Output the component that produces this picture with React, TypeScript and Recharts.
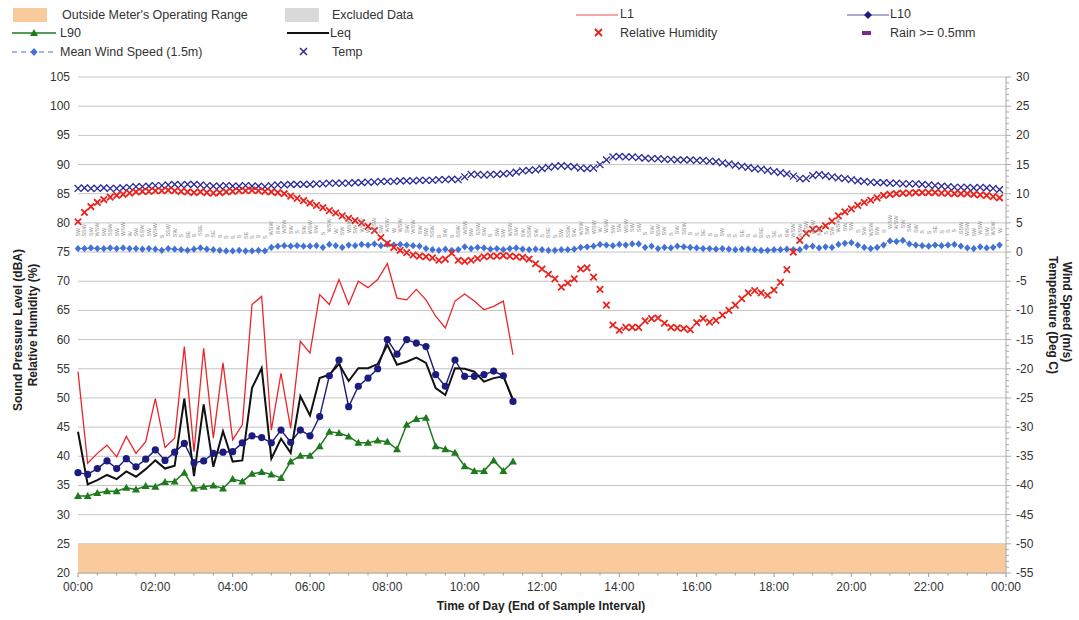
import React from 'react';
import { ComposedChart, Line, XAxis, YAxis, CartesianGrid, ReferenceArea, LabelList } from 'recharts';

// ---- Sound levels, 15-minute intervals from 00:00 (dBA) ----
const l1Values = [54.5, 38.8, 40.5, 41.9, 39.9, 43.4, 40.5, 42.5, 49.9, 41.5, 43.1, 58.8, 40.8, 58.5, 43.1, 56.0, 42.8, 45.4, 66.0, 67.4, 44.5, 54.2, 44.8, 59.7, 57.7, 67.7, 66.0, 70.3, 66.0, 70.0, 68.9, 70.3, 73.0, 67.1, 66.8, 68.6, 66.8, 64.0, 62.0, 66.6, 67.8, 66.6, 65.1, 65.7, 66.6, 57.4];
const l10Values = [37.2, 36.9, 37.9, 39.2, 37.9, 39.6, 38.2, 39.5, 41.1, 39.3, 40.7, 42.2, 38.9, 39.2, 40.5, 40.7, 40.8, 42.3, 43.5, 43.2, 42.3, 44.5, 42.4, 44.5, 43.5, 46.8, 53.8, 56.5, 48.5, 52.0, 53.4, 55.0, 60.0, 57.5, 60.0, 59.4, 58.8, 54.0, 52.0, 56.5, 53.7, 53.7, 54.0, 54.6, 53.8, 49.4];
const l90Values = [33.2, 33.2, 33.7, 34.0, 34.0, 34.6, 34.3, 34.9, 34.8, 35.6, 35.7, 37.2, 34.5, 34.8, 35.0, 34.5, 36.1, 35.7, 37.0, 37.3, 36.9, 36.3, 39.1, 40.1, 40.1, 41.7, 44.2, 44.0, 43.4, 42.3, 42.3, 42.7, 42.5, 41.2, 45.4, 46.4, 46.6, 41.7, 41.2, 40.6, 38.3, 37.5, 37.5, 39.3, 37.5, 39.1];
const leqValues = [44.2, 35.2, 35.9, 36.8, 36.1, 37.4, 36.5, 37.8, 39.3, 37.9, 38.4, 49.9, 36.6, 48.9, 38.2, 44.3, 39.1, 39.3, 51.7, 55.1, 39.6, 43.0, 40.6, 50.3, 47.0, 53.4, 54.0, 55.8, 52.9, 55.1, 55.1, 55.8, 59.1, 55.7, 56.2, 56.9, 56.0, 51.7, 50.5, 55.1, 55.0, 54.5, 52.8, 53.4, 53.7, 49.7];

// ---- Weather, 10-minute intervals from 00:00 ----
const tempValues = [
  10.9, 11.0, 10.9, 10.9, 11.0, 10.9,
  10.9, 11.0, 11.1, 11.2, 11.2, 11.3,
  11.4, 11.4, 11.5, 11.6, 11.5, 11.6,
  11.6, 11.5, 11.4, 11.3, 11.3, 11.4,
  11.3, 11.3, 11.4, 11.3, 11.3, 11.2,
  11.4, 11.5, 11.5, 11.6, 11.6, 11.6,
  11.6, 11.7, 11.7, 11.8, 11.8, 11.8,
  11.8, 11.9, 11.9, 12.0, 12.0, 12.1,
  12.1, 12.1, 12.2, 12.2, 12.2, 12.3,
  12.3, 12.3, 12.4, 12.4, 12.5, 12.4,
  12.9, 13.3, 13.3, 13.2, 13.3, 13.3,
  13.4, 13.5, 13.7, 13.9, 14.0, 14.1,
  14.3, 14.5, 14.7, 14.8, 14.7, 14.6,
  14.4, 14.3, 14.4, 15.0, 15.8, 16.3,
  16.4, 16.3, 16.3, 16.2, 16.1, 16.0,
  16.0, 15.9, 15.9, 15.8, 15.8, 15.8,
  15.7, 15.7, 15.6, 15.5, 15.3, 15.1,
  14.9, 14.7, 14.5, 14.3, 14.2, 14.0,
  13.8, 13.6, 13.4, 13.0, 12.6, 12.6,
  13.1, 13.3, 13.1, 12.9, 12.7, 12.6,
  12.4, 12.2, 12.1, 12.0, 11.9, 11.9,
  11.8, 11.8, 11.7, 11.7, 11.7, 11.6,
  11.5, 11.4, 11.3, 11.2, 11.1, 11.1,
  11.1, 11.0, 11.1, 11.0, 10.9, 10.7,
];
const rhValues = [
  80.2, 81.8, 82.8, 83.5, 84.0, 84.4,
  84.7, 84.9, 85.1, 85.3, 85.4, 85.4,
  85.5, 85.5, 85.6, 85.5, 85.4, 85.3,
  85.2, 85.3, 85.2, 85.1, 85.2, 85.3,
  85.4, 85.5, 85.5, 85.6, 85.5, 85.4,
  85.3, 85.2, 85.0, 84.6, 84.2, 83.8,
  83.4, 83.0, 82.6, 82.1, 81.7, 81.2,
  80.8, 80.4, 80.0, 79.4, 78.7, 77.5,
  76.5, 75.8, 75.3, 74.9, 74.5, 74.3,
  74.2, 74.0, 73.6, 73.8, 74.8, 73.6,
  73.4, 73.6, 73.9, 74.2, 74.3, 74.3,
  74.4, 74.3, 74.2, 74.1, 73.8, 73.0,
  72.1, 71.2, 70.4, 69.0, 69.7, 70.4,
  72.1, 72.3, 70.7, 68.6, 65.9, 62.5,
  61.6, 62.1, 62.1, 62.1, 63.2, 63.6,
  63.7, 62.8, 62.1, 62.0, 61.9, 61.7,
  62.9, 63.6, 63.0, 63.3, 64.2, 65.0,
  65.9, 67.0, 68.0, 68.4, 68.0, 67.6,
  68.5, 69.8, 72.0, 75.0, 77.0, 78.2,
  78.9, 79.0, 79.5, 80.3, 81.2, 81.9,
  82.4, 83.0, 83.5, 83.9, 84.3, 84.7,
  84.9, 85.0, 85.1, 85.1, 85.2, 85.2,
  85.2, 85.2, 85.1, 85.1, 85.0, 85.0,
  85.0, 84.9, 84.8, 84.7, 84.5, 84.3,
];
const windValues = [
  0.6, 0.6, 0.7, 0.6, 0.6, 0.7,
  0.6, 0.7, 0.6, 0.6, 0.5, 0.6,
  0.5, 0.3, 0.6, 0.5, 0.4, 0.3,
  0.5, 0.7, 0.5, 0.4, 0.3, 0.2,
  0.2, 0.3, 0.2, 0.2, 0.3, 0.2,
  0.8, 1.0, 1.1, 1.0, 1.1, 1.0,
  1.0, 1.1, 0.8, 1.3, 1.1, 0.8,
  1.2, 1.1, 1.3, 1.2, 1.4, 1.1,
  1.3, 1.2, 1.3, 1.2, 1.1, 1.0,
  0.6, 0.4, 0.3, 0.5, 0.3, 0.4,
  0.9, 0.6, 0.8, 0.7, 0.5, 0.6,
  0.4, 0.6, 0.7, 0.5, 0.4, 0.5,
  0.4, 0.3, 0.3, 0.4, 0.4, 0.5,
  0.8, 0.9, 1.0, 1.3, 1.2, 1.1,
  1.3, 1.2, 1.4, 1.4, 0.8, 1.0,
  0.6, 0.8, 0.7, 1.0, 0.9, 0.8,
  0.7, 0.6, 0.6, 0.5, 0.6, 0.5,
  0.4, 0.5, 0.5, 0.4, 0.3, 0.3,
  0.4, 0.4, 0.5, 0.4, 0.4, 0.9,
  1.0, 0.7, 0.9, 0.8, 1.3, 1.5,
  1.6, 1.2, 0.8, 0.6, 0.8, 1.2,
  1.9, 1.8, 2.0, 1.4, 1.2, 1.1,
  1.0, 1.2, 1.1, 1.2, 1.3, 1.0,
  0.7, 0.6, 0.9, 0.7, 0.8, 1.2,
];
const windDirs = [
  'SW', 'SSW', 'SW', 'WSW', 'SW', 'SSW',
  'SW', 'WSW', 'W', 'SW', 'SSW', 'SW',
  'WSW', 'S', 'SSW', 'SW', 'S', 'SE',
  'S', 'SSE', 'S', 'SE', 'S', 'S',
  'S', 'S', 'SE', 'S', 'S', 'S',
  'WSW', 'SW', 'WSW', 'SW', 'S', 'SW',
  'WSW', 'SW', 'S', 'WSW', 'W', 'SW',
  'WSW', 'SW', 'WSW', 'W', 'WSW', 'SW',
  'WSW', 'W', 'WSW', 'SW', 'WSW', 'SW',
  'SW', 'SSW', 'S', 'SW', 'S', 'SSW',
  'WSW', 'SW', 'SSW', 'SW', 'S', 'SW',
  'SW', 'WSW', 'SW', 'SW', 'SSW', 'SW',
  'S', 'SSE', 'S', 'SW', 'SSW', 'SW',
  'WSW', 'SW', 'WSW', 'W', 'WSW', 'SW',
  'SW', 'WSW', 'SW', 'SW', 'S', 'SW',
  'SSW', 'SW', 'S', 'SW', 'SSW', 'S',
  'S', 'SE', 'S', 'S', 'SW', 'S',
  'S', 'SE', 'S', 'S', 'SSE', 'S',
  'SE', 'S', 'SW', 'WSW', 'WSW', 'WSW',
  'WSW', 'SW', 'S', 'SW', 'WSW', 'SW',
  'SW', 'S', 'SW', 'WSW', 'SW', 'S',
  'WSW', 'WSW', 'SW', 'SW', 'SW', 'S',
  'S', 'SE', 'S', 'S', 'S', 'SSW',
  'WSW', 'SW', 'WSW', 'SW', 'WSW', 'W',
];

const xTickLabels = ['00:00', '02:00', '04:00', '06:00', '08:00', '10:00', '12:00', '14:00', '16:00', '18:00', '20:00', '22:00', '00:00'];
const leftTicks = [20, 25, 30, 35, 40, 45, 50, 55, 60, 65, 70, 75, 80, 85, 90, 95, 100, 105];
const rightMajorTicks = [-55, -50, -45, -40, -35, -30, -25, -20, -15, -10, -5, 0, 5, 10, 15, 20, 25, 30];
const rightTicks = Array.from({ length: 86 }, (_, i) => i - 55);
const xTicks = Array.from({ length: 49 }, (_, i) => i * 0.5);

const soundData = l1Values.map((v, i) => ({ t: i * 0.25, l1: v, l10: l10Values[i], l90: l90Values[i], leq: leqValues[i] }));
const weatherData = tempValues.map((v, i) => ({ t: i / 6, temp: v, rh: rhValues[i], wind: windValues[i], dir: windDirs[i] }));

const FONT = 'Arial, "Liberation Sans", sans-serif';
const C = {
  l1: '#e8262a',
  l10: '#1c1c80',
  l90: '#1d7a1d',
  leq: '#111111',
  wind: '#4272d6',
  rh: '#e8231d',
  temp: '#2a2a96',
  band: '#f9cb9c',
  grid: '#c4c4c4',
  text: '#333333',
};

const ok = (p: any) => p && p.cx != null && p.cy != null && !isNaN(p.cx) && !isNaN(p.cy);

const circleDot = (p: any) => ok(p) ? <circle key={`c${p.index}`} cx={p.cx} cy={p.cy} r={3.6} fill={C.l10} /> : <g key={`c${p.index}`} />;
const triDot = (p: any) => ok(p) ? <path key={`t${p.index}`} d={`M${p.cx},${p.cy - 4} L${p.cx + 4},${p.cy + 3} L${p.cx - 4},${p.cy + 3} Z`} fill={C.l90} /> : <g key={`t${p.index}`} />;
const diamondDot = (p: any) => ok(p) ? <path key={`d${p.index}`} d={`M${p.cx},${p.cy - 3.6} L${p.cx + 3.2},${p.cy} L${p.cx},${p.cy + 3.6} L${p.cx - 3.2},${p.cy} Z`} fill={C.wind} /> : <g key={`d${p.index}`} />;
const makeX = (color: string, s: number, w: number, pre: string) => (p: any) => ok(p)
  ? <path key={`${pre}${p.index}`} d={`M${p.cx - s},${p.cy - s} L${p.cx + s},${p.cy + s} M${p.cx - s},${p.cy + s} L${p.cx + s},${p.cy - s}`} stroke={color} strokeWidth={w} fill="none" />
  : <g key={`${pre}${p.index}`} />;
const rhDot = makeX(C.rh, 3.2, 1.8, 'r');
const tempDot = makeX(C.temp, 3.4, 1.3, 'm');

const dirLabel = (p: any) => {
  if (p == null || p.x == null || p.y == null) return null;
  const x = p.x;
  const y = p.y - 12;
  return (
    <text x={x} y={y} transform={`rotate(-90 ${x} ${y})`} fontSize={5.5} fill="#8a8a8a" fontFamily={FONT} textAnchor="start" dominantBaseline="central">
      {p.value}
    </text>
  );
};

const xTick = (p: any) => {
  const v = p.payload.value;
  const major = Math.abs(v % 2) < 1e-6;
  return (
    <g>
      <line x1={p.x} x2={p.x} y1={p.y} y2={p.y + (major ? 4 : 2.5)} stroke="#999" />
      {major && (
        <text x={p.x} y={p.y + 18} textAnchor="middle" fontSize={12} fill={C.text} fontFamily={FONT}>
          {xTickLabels[Math.round(v / 2)]}
        </text>
      )}
    </g>
  );
};

const rightTick = (p: any) => {
  const v = p.payload.value;
  const major = rightMajorTicks.includes(v);
  return (
    <g>
      <line x1={p.x} x2={p.x + (major ? 5 : 3)} y1={p.y} y2={p.y} stroke="#aaa" />
      {major && (
        <text x={p.x + 10} y={p.y + 4} textAnchor="start" fontSize={12} fill={C.text} fontFamily={FONT}>
          {String(v)}
        </text>
      )}
    </g>
  );
};

const leftTick = (p: any) => (
  <text x={p.x - 8} y={p.y + 4} textAnchor="end" fontSize={12} fill={C.text} fontFamily={FONT}>
    {String(p.payload.value)}
  </text>
);

const legendText: React.CSSProperties = { position: 'absolute', fontSize: 12.5, color: C.text, fontFamily: FONT, lineHeight: '14px', whiteSpace: 'nowrap' };

const Sym = ({ left, top, w, h, children }: any) => (
  <svg style={{ position: 'absolute', left, top }} width={w} height={h}>{children}</svg>
);

export default function App() {
  return (
    <div style={{ position: 'absolute', left: 0, top: 0, width: 1079, height: 620, background: '#fff', overflow: 'hidden', fontFamily: FONT }}>
      <ComposedChart width={1079} height={620} margin={{ top: 77, right: 0, bottom: 17, left: 0 }}>
        <XAxis dataKey="t" type="number" domain={[0, 24]} ticks={xTicks} interval={0} tick={xTick} tickSize={0} tickMargin={0} tickLine={false} axisLine={{ stroke: '#aaa' }} height={30} allowDuplicatedCategory={false} />
        <YAxis yAxisId="left" orientation="left" type="number" domain={[20, 105]} ticks={leftTicks} interval={0} width={78} axisLine={false} tickLine={false} tickSize={0} tickMargin={0} tick={leftTick} />
        <YAxis yAxisId="right" orientation="right" type="number" domain={[-55, 30]} ticks={rightTicks} interval={0} width={73} axisLine={{ stroke: '#aaa' }} tickLine={false} tickSize={0} tickMargin={0} tick={rightTick} />
        <ReferenceArea yAxisId="left" x1={0} x2={24} y1={20} y2={25} fill={C.band} fillOpacity={1} stroke="none" ifOverflow="hidden" />
        <CartesianGrid yAxisId="left" vertical={false} stroke={C.grid} strokeWidth={1} />

        <Line data={weatherData} yAxisId="right" dataKey="wind" type="linear" stroke={C.wind} strokeWidth={1} strokeDasharray="4 3" dot={diamondDot} activeDot={false} isAnimationActive={false}>
          <LabelList dataKey="dir" content={dirLabel} />
        </Line>
        <Line data={weatherData} yAxisId="right" dataKey="temp" type="linear" stroke="none" strokeWidth={0} dot={tempDot} activeDot={false} isAnimationActive={false} />
        <Line data={weatherData} yAxisId="left" dataKey="rh" type="linear" stroke="none" strokeWidth={0} dot={rhDot} activeDot={false} isAnimationActive={false} />

        <Line data={soundData} yAxisId="left" dataKey="l1" type="linear" stroke={C.l1} strokeWidth={1.3} dot={false} activeDot={false} isAnimationActive={false} />
        <Line data={soundData} yAxisId="left" dataKey="l90" type="linear" stroke={C.l90} strokeWidth={1.5} dot={triDot} activeDot={false} isAnimationActive={false} />
        <Line data={soundData} yAxisId="left" dataKey="l10" type="linear" stroke={C.l10} strokeWidth={1.4} dot={circleDot} activeDot={false} isAnimationActive={false} />
        <Line data={soundData} yAxisId="left" dataKey="leq" type="linear" stroke={C.leq} strokeWidth={2} dot={false} activeDot={false} isAnimationActive={false} />
      </ComposedChart>

      {/* Legend */}
      <Sym left={13} top={8} w={34} h={14}><rect x={0} y={0} width={34} height={14} fill={C.band} /></Sym>
      <div style={{ ...legendText, left: 62, top: 8 }}>Outside Meter's Operating Range</div>
      <Sym left={285} top={8} w={34} h={14}><rect x={0} y={0} width={34} height={14} fill="#d9d9d9" /></Sym>
      <div style={{ ...legendText, left: 332, top: 8 }}>Excluded Data</div>
      <Sym left={576} top={8} w={44} h={14}><line x1={0} x2={42} y1={7} y2={7} stroke="#f08a8a" strokeWidth={1.5} /></Sym>
      <div style={{ ...legendText, left: 620, top: 7 }}>L1</div>
      <Sym left={847} top={8} w={44} h={14}>
        <line x1={0} x2={42} y1={7} y2={7} stroke="#8c8cc8" strokeWidth={1.5} />
        <path d="M21,3 L25,7 L21,11 L17,7 Z" fill={C.l10} />
      </Sym>
      <div style={{ ...legendText, left: 890, top: 7 }}>L10</div>

      <Sym left={12} top={26} w={46} h={14}>
        <line x1={0} x2={44} y1={7} y2={7} stroke={C.l90} strokeWidth={1.5} />
        <path d="M22,3 L26,10 L18,10 Z" fill={C.l90} />
      </Sym>
      <div style={{ ...legendText, left: 60, top: 26 }}>L90</div>
      <Sym left={287} top={26} w={44} h={14}><line x1={0} x2={42} y1={7} y2={7} stroke="#111" strokeWidth={2} /></Sym>
      <div style={{ ...legendText, left: 330, top: 26 }}>Leq</div>
      <Sym left={592} top={26} w={14} h={14}><path d="M3,3 L10,10 M3,10 L10,3" stroke={C.rh} strokeWidth={1.8} /></Sym>
      <div style={{ ...legendText, left: 620, top: 26 }}>Relative Humidity</div>
      <Sym left={860} top={26} w={14} h={14}><rect x={2} y={5} width={9} height={4} fill="#7a2a8a" /></Sym>
      <div style={{ ...legendText, left: 890, top: 26 }}>Rain &gt;= 0.5mm</div>

      <Sym left={12} top={45} w={46} h={14}>
        <line x1={0} x2={44} y1={7} y2={7} stroke={C.wind} strokeWidth={1.2} strokeDasharray="5 4" />
        <path d="M22,3 L25.5,7 L22,11 L18.5,7 Z" fill={C.wind} />
      </Sym>
      <div style={{ ...legendText, left: 60, top: 45 }}>Mean Wind Speed (1.5m)</div>
      <Sym left={297} top={45} w={14} h={14}><path d="M3,3 L10,10 M3,10 L10,3" stroke={C.temp} strokeWidth={1.5} /></Sym>
      <div style={{ ...legendText, left: 332, top: 45 }}>Temp</div>

      {/* Axis titles */}
      <div style={{ position: 'absolute', left: 18, top: 330, transform: 'translate(-50%, -50%) rotate(-90deg)', fontSize: 12, fontWeight: 'bold', color: '#222', whiteSpace: 'nowrap', fontFamily: FONT }}>Sound Pressure Level (dBA)</div>
      <div style={{ position: 'absolute', left: 33, top: 325, transform: 'translate(-50%, -50%) rotate(-90deg)', fontSize: 12, fontWeight: 'bold', color: '#222', whiteSpace: 'nowrap', fontFamily: FONT }}>Relative Humidity (%)</div>
      <div style={{ position: 'absolute', left: 1067, top: 312, transform: 'translate(-50%, -50%) rotate(90deg)', fontSize: 12, fontWeight: 'bold', color: '#222', whiteSpace: 'nowrap', fontFamily: FONT }}>Wind Speed (m/s)</div>
      <div style={{ position: 'absolute', left: 1053, top: 315, transform: 'translate(-50%, -50%) rotate(90deg)', fontSize: 12, fontWeight: 'bold', color: '#222', whiteSpace: 'nowrap', fontFamily: FONT }}>Temperature (Deg C)</div>
      <div style={{ position: 'absolute', left: 541, top: 606, transform: 'translate(-50%, -50%)', fontSize: 12, fontWeight: 'bold', color: '#222', whiteSpace: 'nowrap', fontFamily: FONT }}>Time of Day (End of Sample Interval)</div>
    </div>
  );
}
